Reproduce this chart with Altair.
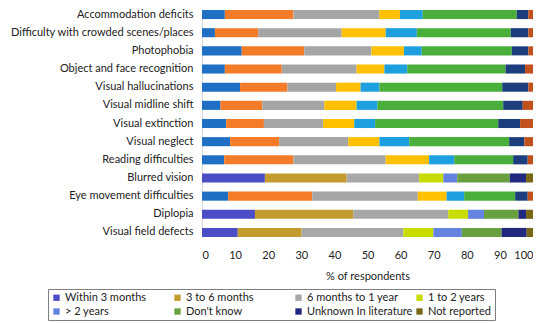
import altair as alt
import pandas as pd

categories = [
    "Accommodation deficits",
    "Difficulty with crowded scenes/places",
    "Photophobia",
    "Object and face recognition",
    "Visual hallucinations",
    "Visual midline shift",
    "Visual extinction",
    "Visual neglect",
    "Reading difficulties",
    "Blurred vision",
    "Eye movement difficulties",
    "Diplopia",
    "Visual field defects",
]

series_names = [
    "Within 3 months",
    "3 to 6 months",
    "6 months to 1 year",
    "1 to 2 years",
    "> 2 years",
    "Don't know",
    "Unknown In literature",
    "Not reported",
]

within_3_months = [6.9, 3.9, 12.0, 6.9, 11.5, 5.6, 7.3, 8.5, 6.7, 19.0, 7.9, 16.0, 10.8]
three_to_6_months = [20.7, 13.1, 18.9, 17.2, 14.3, 12.6, 11.4, 14.8, 20.9, 24.7, 25.4, 29.7, 19.3]
six_months_to_1_year = [26.0, 25.2, 20.3, 22.6, 14.7, 18.8, 17.9, 20.9, 27.9, 21.9, 31.9, 28.7, 30.7]
one_to_2_years = [6.2, 13.3, 9.8, 8.4, 7.4, 9.7, 9.4, 9.4, 13.1, 7.3, 8.7, 6.0, 9.1]
over_2_years = [6.9, 9.4, 5.4, 6.9, 5.7, 6.3, 6.3, 9.0, 7.6, 4.2, 5.3, 4.8, 8.6]
dont_know = [28.4, 28.4, 27.2, 29.7, 37.1, 38.0, 37.2, 30.2, 17.8, 15.9, 15.4, 10.4, 12.0]
unknown_in_literature = [3.5, 5.3, 5.0, 5.9, 7.9, 5.9, 6.6, 4.6, 4.4, 4.9, 3.8, 2.3, 7.6]
not_reported = [1.4, 1.4, 1.4, 2.4, 1.4, 3.1, 3.9, 2.6, 1.6, 2.1, 1.6, 2.1, 1.9]

series_values = [
    within_3_months, three_to_6_months, six_months_to_1_year, one_to_2_years,
    over_2_years, dont_know, unknown_in_literature, not_reported,
]

# styling
bar_colors = ["#1f6fc4", "#f47c28", "#a5a5a5", "#ffc000", "#1e9fdf", "#4aae3b", "#1c3e7c", "#c2501c"]
legend_colors = ["#4b4dc6", "#c49c2e", "#a8a8a8", "#c8dc00", "#6482e0", "#68a040", "#22287e", "#786816"]
rows_with_legend_palette = {"Blurred vision", "Diplopia", "Visual field defects"}

records = []
for i, cat in enumerate(categories):
    pal = "b" if cat in rows_with_legend_palette else "a"
    for k, (s, vals) in enumerate(zip(series_names, series_values)):
        records.append({"category": cat, "series": s, "value": vals[i],
                        "order": k, "key": f"{s}|{pal}"})
df = pd.DataFrame(records)

key_domain = [f"{s}|a" for s in series_names] + [f"{s}|b" for s in series_names]
key_range = bar_colors + legend_colors

FONT = "Lato"
FS = 11

bars = alt.Chart(df).mark_bar().encode(
    x=alt.X("value:Q", stack="zero",
            scale=alt.Scale(domain=[0, 100], nice=False),
            axis=alt.Axis(values=list(range(0, 101, 10)), grid=False, domain=False,
                          ticks=False, labelPadding=12, title="% of respondents",
                          titlePadding=10, titleFontWeight="normal", titleFontSize=FS,
                          labelFontSize=FS, labelFont=FONT, titleFont=FONT,
                          labelColor="#222", titleColor="#222")),
    y=alt.Y("category:N", sort=categories,
            scale=alt.Scale(paddingInner=0.5, paddingOuter=0.0),
            axis=alt.Axis(title=None, ticks=False, domain=True, domainColor="#d9d9d9",
                          labelPadding=9, labelFontSize=FS, labelFont=FONT,
                          labelColor="#222", labelLimit=300)),
    color=alt.Color("key:N", scale=alt.Scale(domain=key_domain, range=key_range), legend=None),
    order=alt.Order("order:Q"),
)

legend_df = pd.DataFrame({"series": series_names})
legend_layer = alt.Chart(legend_df).mark_square(opacity=0, size=36).encode(
    color=alt.Color("series:N", sort=series_names,
                    scale=alt.Scale(domain=series_names, range=legend_colors),
                    legend=alt.Legend(orient="none", legendX=-154, legendY=279, columns=4,
                                      direction="horizontal",
                                      title=None, symbolType="square", symbolSize=40,
                                      symbolOpacity=1, symbolStrokeWidth=0,
                                      strokeColor="#7f7f7f", padding=3, gridAlign="all",
                                      columnPadding=1, rowPadding=2, labelFontSize=FS,
                                      labelFont=FONT, labelColor="#222", labelOffset=3)),
)

chart = alt.layer(bars, legend_layer).resolve_scale(color="independent").properties(
    width=331, height=227,
    autosize=alt.AutoSizeParams(type="none"),
    padding={"left": 194, "top": 2, "right": 0, "bottom": 86},
).configure_view(stroke=None)

chart.save("out.html", embed_options={"renderer": "svg", "actions": False})
